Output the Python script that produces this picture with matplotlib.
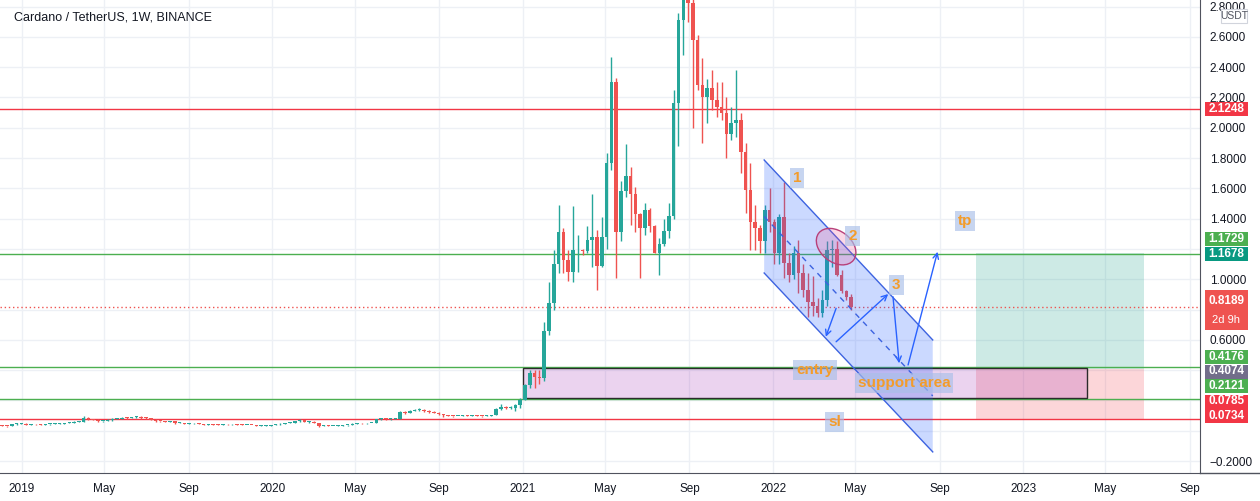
import numpy as np
import pandas as pd
import matplotlib
matplotlib.use('Agg')
import matplotlib.pyplot as plt
import matplotlib.dates as mdates
from matplotlib.patches import Polygon, Rectangle, Ellipse, FancyArrowPatch
from matplotlib import transforms
from matplotlib.transforms import Bbox, TransformedBbox

plt.rcParams['font.family'] = ['Liberation Sans', 'DejaVu Sans']

# ADA/USDT weekly candles (open = previous close)
week_start = '2018-12-03'
first_open = 0.036
closes = [0.032, 0.030, 0.042, 0.044, 0.047, 0.040, 0.043, 0.041, 0.038, 0.042,
          0.044, 0.045, 0.046, 0.050, 0.054, 0.058, 0.060, 0.084, 0.078, 0.072,
          0.063, 0.064, 0.072, 0.078, 0.080, 0.086, 0.084, 0.088, 0.090, 0.083,
          0.082, 0.072, 0.064, 0.062, 0.060, 0.062, 0.050, 0.052, 0.046, 0.048,
          0.050, 0.046, 0.040, 0.040, 0.039, 0.038, 0.043, 0.041, 0.043, 0.040,
          0.037, 0.038, 0.036, 0.034, 0.034, 0.034, 0.037, 0.041, 0.046, 0.050,
          0.054, 0.062, 0.068, 0.058, 0.060, 0.050, 0.031, 0.033, 0.030, 0.031,
          0.034, 0.035, 0.038, 0.046, 0.050, 0.048, 0.050, 0.052, 0.075, 0.078,
          0.075, 0.078, 0.080, 0.125, 0.118, 0.133, 0.135, 0.137, 0.130, 0.125,
          0.118, 0.110, 0.101, 0.098, 0.096, 0.098, 0.102, 0.100, 0.101, 0.098,
          0.097, 0.098, 0.103, 0.140, 0.155, 0.148, 0.152, 0.170,
          0.205, 0.300, 0.380, 0.355, 0.345, 0.660, 0.840, 1.100, 1.310, 1.130,
          1.050, 1.190, 1.195, 1.185, 1.260, 1.280, 1.090, 1.280, 1.770, 2.300,
          1.310, 1.580, 1.680, 1.560, 1.430, 1.340, 1.460, 1.350, 1.170, 1.230,
          1.320, 1.420, 2.160, 2.710, 2.880, 2.820, 2.580, 2.280, 2.200, 2.260,
          2.180, 2.140, 2.100, 1.960, 2.030, 2.050, 1.840, 1.590, 1.380, 1.340,
          1.250, 1.460, 1.380, 1.170, 1.410, 1.110, 1.030, 1.170, 1.040, 0.930,
          0.850, 0.820, 0.780, 0.860, 1.190, 1.200, 1.030, 0.920, 0.880, 0.8189]
highs = [0.039, 0.034, 0.044, 0.049, 0.051, 0.050, 0.045, 0.045, 0.042, 0.043,
         0.046, 0.050, 0.048, 0.052, 0.057, 0.062, 0.063, 0.095, 0.090, 0.080,
         0.074, 0.067, 0.076, 0.084, 0.086, 0.091, 0.089, 0.092, 0.096, 0.095,
         0.089, 0.084, 0.074, 0.067, 0.065, 0.066, 0.063, 0.055, 0.054, 0.051,
         0.053, 0.051, 0.047, 0.042, 0.041, 0.041, 0.046, 0.045, 0.045, 0.044,
         0.041, 0.040, 0.039, 0.037, 0.036, 0.035, 0.038, 0.043, 0.048, 0.053,
         0.056, 0.065, 0.074, 0.070, 0.062, 0.062, 0.052, 0.036, 0.035, 0.033,
         0.036, 0.037, 0.040, 0.048, 0.053, 0.051, 0.052, 0.054, 0.080, 0.082,
         0.079, 0.080, 0.083, 0.130, 0.132, 0.138, 0.140, 0.152, 0.142, 0.134,
         0.128, 0.121, 0.112, 0.104, 0.100, 0.100, 0.105, 0.106, 0.104, 0.103,
         0.100, 0.101, 0.105, 0.150, 0.175, 0.160, 0.165, 0.175,
         0.215, 0.310, 0.400, 0.400, 0.400, 0.720, 0.980, 1.190, 1.490, 1.340,
         1.190, 1.480, 1.290, 1.200, 1.350, 1.560, 1.325, 1.410, 1.830, 2.470,
         2.330, 1.650, 1.890, 1.740, 1.610, 1.440, 1.500, 1.470, 1.360, 1.270,
         1.400, 1.500, 2.250, 2.760, 2.970, 3.100, 3.000, 2.610, 2.460, 2.320,
         2.380, 2.300, 2.300, 2.200, 2.140, 2.380, 2.100, 1.900, 1.770, 1.490,
         1.360, 1.490, 1.600, 1.400, 1.430, 1.640, 1.170, 1.220, 1.260, 1.100,
         1.040, 1.020, 0.875, 0.930, 1.250, 1.260, 1.250, 1.060, 0.930, 0.900]
lows = [0.028, 0.027, 0.029, 0.040, 0.042, 0.038, 0.039, 0.040, 0.036, 0.037,
        0.040, 0.042, 0.043, 0.045, 0.049, 0.053, 0.056, 0.059, 0.073, 0.068,
        0.058, 0.060, 0.062, 0.066, 0.074, 0.077, 0.080, 0.081, 0.085, 0.080,
        0.078, 0.068, 0.060, 0.058, 0.057, 0.058, 0.047, 0.048, 0.044, 0.045,
        0.046, 0.044, 0.037, 0.038, 0.037, 0.036, 0.037, 0.040, 0.040, 0.038,
        0.036, 0.035, 0.035, 0.033, 0.032, 0.033, 0.033, 0.036, 0.040, 0.045,
        0.048, 0.053, 0.060, 0.055, 0.054, 0.048, 0.022, 0.029, 0.028, 0.029,
        0.030, 0.033, 0.034, 0.037, 0.045, 0.045, 0.047, 0.049, 0.051, 0.072,
        0.071, 0.073, 0.076, 0.079, 0.112, 0.116, 0.128, 0.130, 0.124, 0.120,
        0.114, 0.104, 0.090, 0.094, 0.092, 0.094, 0.096, 0.098, 0.097, 0.094,
        0.093, 0.094, 0.096, 0.102, 0.135, 0.140, 0.140, 0.128,
        0.150, 0.200, 0.280, 0.280, 0.310, 0.330, 0.630, 0.800, 1.040, 1.040,
        0.990, 0.980, 1.050, 1.160, 1.170, 1.080, 0.930, 1.080, 1.200, 1.720,
        1.010, 1.250, 1.540, 1.360, 1.310, 1.010, 1.290, 1.310, 1.170, 1.030,
        1.220, 1.270, 1.400, 1.880, 2.480, 2.700, 2.000, 2.250, 1.900, 2.030,
        2.120, 2.070, 2.050, 1.800, 1.920, 1.940, 1.700, 1.440, 1.190, 1.190,
        1.170, 1.170, 1.310, 1.100, 1.100, 1.010, 0.980, 1.000, 0.910, 0.880,
        0.750, 0.760, 0.750, 0.750, 0.820, 1.080, 1.020, 0.910, 0.860, 0.800]

# horizontal levels drawn on the chart
red_levels = [2.1248, 0.0785]
green_levels = [1.1678, 0.4176, 0.2121]
last_price = 0.8189

# support box and long position
support_box = ('2021-01-01', '2023-04-04', 0.218, 0.4157)
pos_start, pos_end = '2022-10-24', '2023-06-26'
pos_entry, pos_tp, pos_sl = 0.4074, 1.1729, 0.0734

# descending channel (left date, right date; upper/lower prices)
ch_dates = ('2021-12-19', '2022-08-22')
ch_upper = (1.787, 0.599)
ch_lower = (1.041, -0.140)

W, H = 1260, 501
fig = plt.figure(figsize=(W / 100, H / 100), dpi=100)
ax = fig.add_axes([0, 28 / H, 1200 / W, 473 / H])

def d(s):
    return mdates.date2num(pd.Timestamp(s))

base = d('2019-01-01')
ax.set_xlim(base - 32.1, base + 1719.0)
ax.set_ylim(-0.2792, 2.843)

# grid / ticks
xt = [d(f'{y}-{m:02d}-01') for y in range(2019, 2024) for m in (1, 5, 9)]
xl = [str(y) if m == 1 else ('May' if m == 5 else 'Sep') for y in range(2019, 2024) for m in (1, 5, 9)]
ax.set_xticks(xt)
ax.set_xticklabels(xl)
yt = np.round(np.arange(-0.2, 2.81, 0.2), 4)
hidden = [0.0, 0.2, 0.4, 0.8, 1.2]   # covered by the price tags
ax.set_yticks(yt)
ax.set_yticklabels(['' if v in hidden else ('%.4f' % v if v >= 0 else '\u2212%.4f' % -v) for v in yt])
ax.grid(color='#edf0f5', lw=1, zorder=0)
ax.set_axisbelow(True)
ax.yaxis.tick_right()
ax.tick_params(axis='y', length=0, pad=7, labelsize=8.5, labelcolor='#131722')
ax.tick_params(axis='x', length=0, pad=7, labelsize=8.5, labelcolor='#131722')
for s in ('top', 'left'):
    ax.spines[s].set_visible(False)
for s in ('right', 'bottom'):
    ax.spines[s].set_color('#50535e')
fig.add_artist(plt.Line2D([1200 / W, 1], [28 / H, 28 / H], color='#50535e', lw=1))

# level lines
for p in red_levels:
    ax.axhline(p, color='#f23645', lw=1, zorder=2)
for p in green_levels:
    ax.axhline(p, color='#4caf50', lw=1, zorder=2)
ax.axhline(last_price, color='#ef5350', lw=1, ls=(0, (1, 2)), zorder=2)

# support box
ax.add_patch(Rectangle((d(support_box[0]), support_box[2]),
                       d(support_box[1]) - d(support_box[0]), support_box[3] - support_box[2],
                       facecolor=(0.61, 0.15, 0.69, 0.2), edgecolor='#2b2b2b', lw=1, zorder=2))
# long position
ax.add_patch(Rectangle((d(pos_start), pos_entry), d(pos_end) - d(pos_start), pos_tp - pos_entry,
                       facecolor=(0.03, 0.6, 0.5, 0.2), edgecolor='none', zorder=1.5))
ax.add_patch(Rectangle((d(pos_start), pos_sl), d(pos_end) - d(pos_start), pos_entry - pos_sl,
                       facecolor=(0.95, 0.21, 0.27, 0.2), edgecolor='none', zorder=1.5))

# candles
dates = pd.date_range(week_start, periods=len(closes), freq='7D')
x = mdates.date2num(dates)
c = np.array(closes)
o = np.array([first_open] + closes[:-1])
h = np.array(highs)
l = np.array(lows)
cols = np.where(c >= o, '#26a69a', '#ef5350')
ax.vlines(x, l, h, colors=cols, lw=1, zorder=3)
ax.bar(x, np.maximum(np.abs(c - o), 0.006), bottom=np.minimum(o, c), width=5.2,
       color=cols, linewidth=0, zorder=3)

# channel
x0, x1 = d(ch_dates[0]), d(ch_dates[1])
ax.add_patch(Polygon([(x0, ch_upper[0]), (x1, ch_upper[1]), (x1, ch_lower[1]), (x0, ch_lower[0])],
                     closed=True, facecolor=(0.16, 0.38, 1.0, 0.24), edgecolor='none', zorder=4))
ax.plot([x0, x1], ch_upper, color='#3d63e0', lw=1, zorder=4)
ax.plot([x0, x1], ch_lower, color='#3d63e0', lw=1, zorder=4)
ax.plot([x0, x1], [(ch_upper[0] + ch_lower[0]) / 2, (ch_upper[1] + ch_lower[1]) / 2],
        color='#3d63e0', lw=1, ls=(0, (4, 4)), zorder=4)

# path arrows
arrows = [(('2022-04-03', 0.808), ('2022-03-19', 0.620)),
          (('2022-04-03', 0.587), ('2022-06-18', 0.902)),
          (('2022-06-25', 0.884), ('2022-07-04', 0.445)),
          (('2022-07-17', 0.434), ('2022-08-29', 1.181))]
for (a, pa), (b, pb) in arrows:
    ax.add_patch(FancyArrowPatch((d(a), pa), (d(b), pb), arrowstyle='->', mutation_scale=10,
                                 color='#2962ff', lw=1, shrinkA=0, shrinkB=0, zorder=5))

# ellipse around point 2
trans = fig.dpi_scale_trans + transforms.ScaledTranslation(d('2022-04-03'), 1.215, ax.transData)
ax.add_patch(Ellipse((0, 0), 0.44, 0.31, angle=-38, transform=trans,
                     facecolor=(0.95, 0.3, 0.55, 0.22), edgecolor='#b8407a', lw=1, zorder=5))

# labels
labels = [('1', '2022-02-05', 1.668), ('2', '2022-04-27', 1.285), ('3', '2022-06-30', 0.962),
          ('tp', '2022-10-08', 1.384), ('entry', '2022-03-03', 0.401),
          ('support area', '2022-07-11', 0.315), ('sl', '2022-04-01', 0.057)]
for t, dt, p in labels:
    ax.text(d(dt), p, t, color='#f39c2b', fontsize=11, fontweight='bold', ha='center', va='center',
            zorder=6, bbox=dict(boxstyle='square,pad=0.2', fc='#a9bfe8', ec='none', alpha=0.65))

# title
fig.text(14 / W, 1 - 18 / H, 'Cardano / TetherUS, 1W, BINANCE', fontsize=9, color='#131722',
         va='center', ha='left')

# price tags on the right scale
tags = [(108.5, '#f23645', '2.1248'), (239, '#4caf50', '1.1729'), (254, '#089981', '1.1678'),
        (357, '#4caf50', '0.4176'), (371.5, '#726e8a', '0.4074'), (386, '#4caf50', '0.2121'),
        (401.5, '#f23645', '0.0785'), (416, '#f23645', '0.0734')]
for yc, col, t in tags:
    fig.add_artist(Rectangle((1205 / W, 1 - (yc + 7) / H), 43 / W, 14 / H, transform=fig.transFigure,
                             facecolor=col, edgecolor='none', zorder=5))
    fig.text(1226.5 / W, 1 - yc / H, t, color='white', fontsize=8.5, fontweight='bold',
             ha='center', va='center', zorder=6)
fig.add_artist(Rectangle((1205 / W, 1 - 330 / H), 43 / W, 40 / H, transform=fig.transFigure,
                         facecolor='#ef5350', edgecolor='none', zorder=5))
fig.text(1226.5 / W, 1 - 301 / H, '%.4f' % last_price, color='white', fontsize=8.5, fontweight='bold',
         ha='center', va='center', zorder=6)
fig.text(1226.5 / W, 1 - 320 / H, '2d 9h', color='white', fontsize=8,
         ha='center', va='center', zorder=6)
fig.add_artist(Rectangle((1221 / W, 1 - 23 / H), 26 / W, 14 / H, transform=fig.transFigure,
                         facecolor='white', edgecolor='#d1d4dc', lw=0.8, zorder=5))
fig.text(1234 / W, 1 - 16 / H, 'USDT', color='#50535e', fontsize=7.5, ha='center', va='center', zorder=6)

# clip the last month label at the price scale, as in the chart
fig.canvas.draw()
clip = TransformedBbox(Bbox([[0, -0.2], [1, 1.1]]), ax.transAxes)
for tk in ax.xaxis.get_major_ticks():
    tk.label1.set_clip_box(clip)
    tk.label1.set_clip_on(True)

fig.savefig('out.png', dpi=100)
